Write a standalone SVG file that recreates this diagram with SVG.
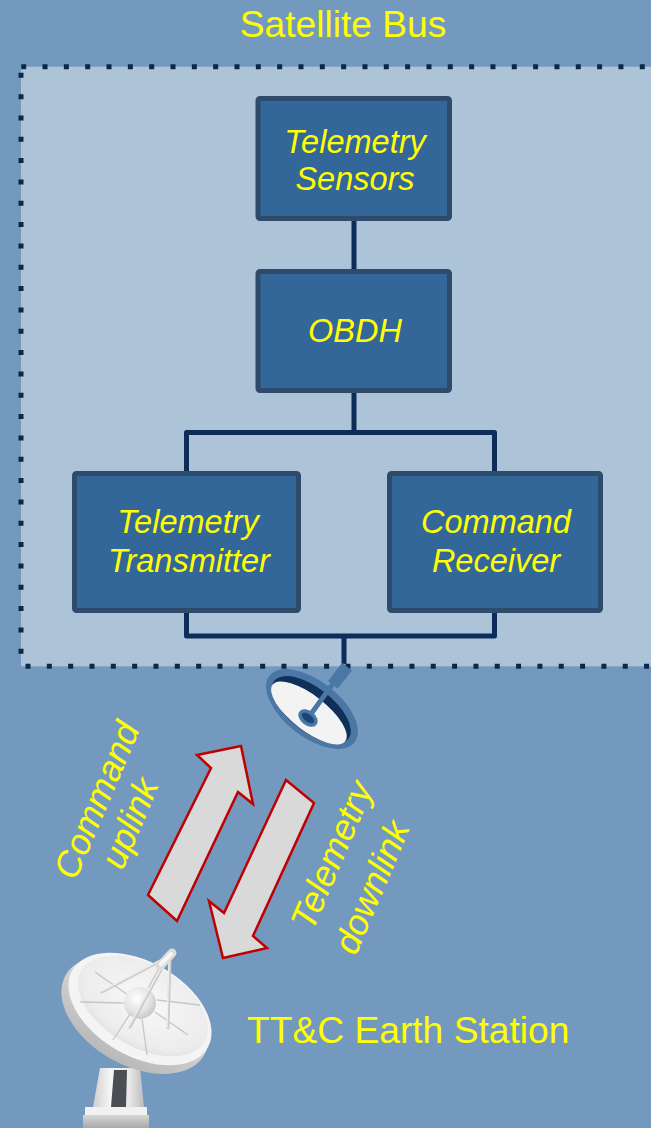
<svg xmlns="http://www.w3.org/2000/svg" width="651" height="1128" viewBox="0 0 651 1128">
  <style>
    .node-box { fill: #336699; stroke: #2f4b6b; stroke-width: 5; }
    .node-text { font-family: "Liberation Sans", Arial, sans-serif; font-style: italic; font-size: 32.5px; fill: #ffff00; text-anchor: middle; }
    .plain-text { font-family: "Liberation Sans", Arial, sans-serif; font-size: 37.2px; fill: #ffff00; }
    .link-text { font-family: "Liberation Sans", Arial, sans-serif; font-style: italic; font-size: 36px; fill: #ffff00; text-anchor: middle; }
    .wire { fill: none; stroke: #0c2d5a; stroke-width: 5; stroke-linejoin: round; }
    .dots { fill: none; stroke: #0b2846; stroke-width: 5; stroke-dasharray: 5 16.33; }
    .link-arrow { fill: #d9d9d9; stroke: #c00000; stroke-width: 2.5; stroke-linejoin: miter; }
  </style>
  <defs>
    <linearGradient id="gPedestal" x1="0" y1="0" x2="1" y2="0">
      <stop offset="0" stop-color="#cfcfcf"/>
      <stop offset="0.35" stop-color="#f7f7f7"/>
      <stop offset="0.7" stop-color="#e9e9e9"/>
      <stop offset="1" stop-color="#bdbdbd"/>
    </linearGradient>
    <linearGradient id="gBase" x1="0" y1="0" x2="0" y2="1">
      <stop offset="0" stop-color="#d6d6d6"/>
      <stop offset="1" stop-color="#a9a9a9"/>
    </linearGradient>
    <linearGradient id="gBack" x1="0" y1="0" x2="0" y2="1">
      <stop offset="0" stop-color="#e6e6e6"/>
      <stop offset="1" stop-color="#b9b9b9"/>
    </linearGradient>
    <radialGradient id="gFace" cx="0.5" cy="0.45" r="0.6">
      <stop offset="0" stop-color="#f9f9f9"/>
      <stop offset="0.8" stop-color="#ececec"/>
      <stop offset="1" stop-color="#dcdcdc"/>
    </radialGradient>
    <radialGradient id="gHub" cx="0.4" cy="0.35" r="0.7">
      <stop offset="0" stop-color="#ffffff"/>
      <stop offset="0.6" stop-color="#e4e4e4"/>
      <stop offset="1" stop-color="#c4c4c4"/>
    </radialGradient>
  </defs>

  <!-- backdrop -->
  <rect x="0" y="0" width="651" height="1128" fill="#7399bf"/>

  <!-- satellite bus area -->
  <g id="bus">
    <rect x="21" y="66.7" width="640" height="599.6" fill="#adc3d7"/>
    <path class="dots" d="M21.2,66.7 H651"/>
    <path class="dots" d="M21,72.8 V666"/>
    <path class="dots" d="M25.5,666.3 H651"/>
    <text class="plain-text" x="343" y="37" text-anchor="middle">Satellite Bus</text>
  </g>

  <!-- wiring between units -->
  <g id="connectors">
    <path class="wire" d="M354,221 V270"/>
    <path class="wire" d="M354,393 V432.5"/>
    <path class="wire" d="M186.5,472 V432.5 H494.5 V472"/>
    <path class="wire" d="M186.5,612 V636 H494.5 V612"/>
    <path class="wire" d="M344,636 V664"/>
  </g>

  <g id="telemetry-sensors">
    <rect class="node-box" x="258" y="98.5" width="191.5" height="120" rx="2"/>
    <text class="node-text" x="355" y="153">Telemetry</text>
    <text class="node-text" x="355" y="190">Sensors</text>
  </g>

  <g id="obdh">
    <rect class="node-box" x="258" y="271.5" width="191.5" height="119" rx="2"/>
    <text class="node-text" x="355" y="342">OBDH</text>
  </g>

  <g id="telemetry-transmitter">
    <rect class="node-box" x="74.5" y="473.5" width="224" height="137" rx="2"/>
    <text class="node-text" x="188" y="533">Telemetry</text>
    <text class="node-text" x="189" y="572">Transmitter</text>
  </g>

  <g id="command-receiver">
    <rect class="node-box" x="389.5" y="473.5" width="211" height="137" rx="2"/>
    <text class="node-text" x="496" y="533">Command</text>
    <text class="node-text" x="496" y="572">Receiver</text>
  </g>

  <!-- spacecraft antenna -->
  <g id="sat-antenna" transform="translate(312,709) rotate(38)">
    <rect x="-4.7" y="-55" width="12.4" height="23" fill="#4a77a3"/>
    <ellipse cx="0" cy="0" rx="54" ry="28" fill="#4a77a3"/>
    <ellipse cx="0" cy="1" rx="47" ry="22" fill="#10305a"/>
    <ellipse cx="0" cy="5" rx="46" ry="17.5" fill="#f3f3f3"/>
    <path d="M1,-32 L2.4,8" stroke="#4a77a3" stroke-width="5" fill="none"/>
    <ellipse cx="2.4" cy="9.6" rx="9" ry="5.5" fill="#1b4577" stroke="#4a77a3" stroke-width="3.5"/>
  </g>

  <!-- up and down link arrows -->
  <g id="uplink">
    <polygon class="link-arrow" points="148,895 177,921 238,792 253,804 241,746 197,755 211,768"/>
    <text class="link-text" transform="translate(108,805) rotate(-67)">Command</text>
    <text class="link-text" transform="translate(141,828) rotate(-67)">uplink</text>
  </g>
  <g id="downlink">
    <polygon class="link-arrow" points="286,780 314,803 253,936 267,948 223,958 209,901 224,913"/>
    <text class="link-text" transform="translate(343,860) rotate(-67)">Telemetry</text>
    <text class="link-text" transform="translate(383,892) rotate(-67)">downlink</text>
  </g>

  <!-- ground station antenna -->
  <g id="earth-station">
    <rect x="83" y="1115" width="66" height="13" fill="url(#gBase)"/>
    <rect x="85" y="1107" width="62" height="8" fill="#f1f1f1"/>
    <polygon points="100,1068 140,1068 144,1107 93,1107" fill="url(#gPedestal)"/>
    <polygon points="114,1070 127,1070 126,1107 111,1107" fill="#4b4e53"/>
    <ellipse cx="135" cy="1015" rx="80" ry="50" transform="rotate(30 135 1015)" fill="url(#gBack)"/>
    <ellipse cx="140" cy="1009" rx="78" ry="47" transform="rotate(30 140 1009)" fill="#f4f4f4"/>
    <ellipse cx="143" cy="1006" rx="71" ry="41" transform="rotate(30 143 1006)" fill="url(#gFace)"/>
    <g stroke="#c3c3c3" stroke-width="1.3" fill="none" opacity="0.9">
      <path d="M128,995 L95,972"/>
      <path d="M126,1003 L80,1002"/>
      <path d="M130,1014 L113,1040"/>
      <path d="M142,1019 L147,1055"/>
      <path d="M155,1012 L188,1035"/>
      <path d="M157,1000 L200,1005"/>
      <path d="M148,988 L160,967"/>
    </g>
    <circle cx="140" cy="1003" r="16" fill="url(#gHub)"/>
    <g stroke="#cdcdcd" stroke-width="3" stroke-linecap="round" fill="none">
      <path d="M168,957 L102,992"/>
      <path d="M168,957 L130,1027"/>
      <path d="M170,958 L168,1028"/>
    </g>
    <g stroke="#f2f2f2" stroke-width="1.2" stroke-linecap="round" fill="none">
      <path d="M168,956 L102,991"/>
      <path d="M167,957 L129,1026"/>
      <path d="M169,958 L167,1027"/>
    </g>
    <path d="M160,966 L172,953" stroke="#dcdcdc" stroke-width="9" stroke-linecap="round"/>
    <path d="M161,964 L171,954" stroke="#f5f5f5" stroke-width="4" stroke-linecap="round"/>
    <text class="plain-text" x="247" y="1043">TT&amp;C Earth Station</text>
  </g>
</svg>
